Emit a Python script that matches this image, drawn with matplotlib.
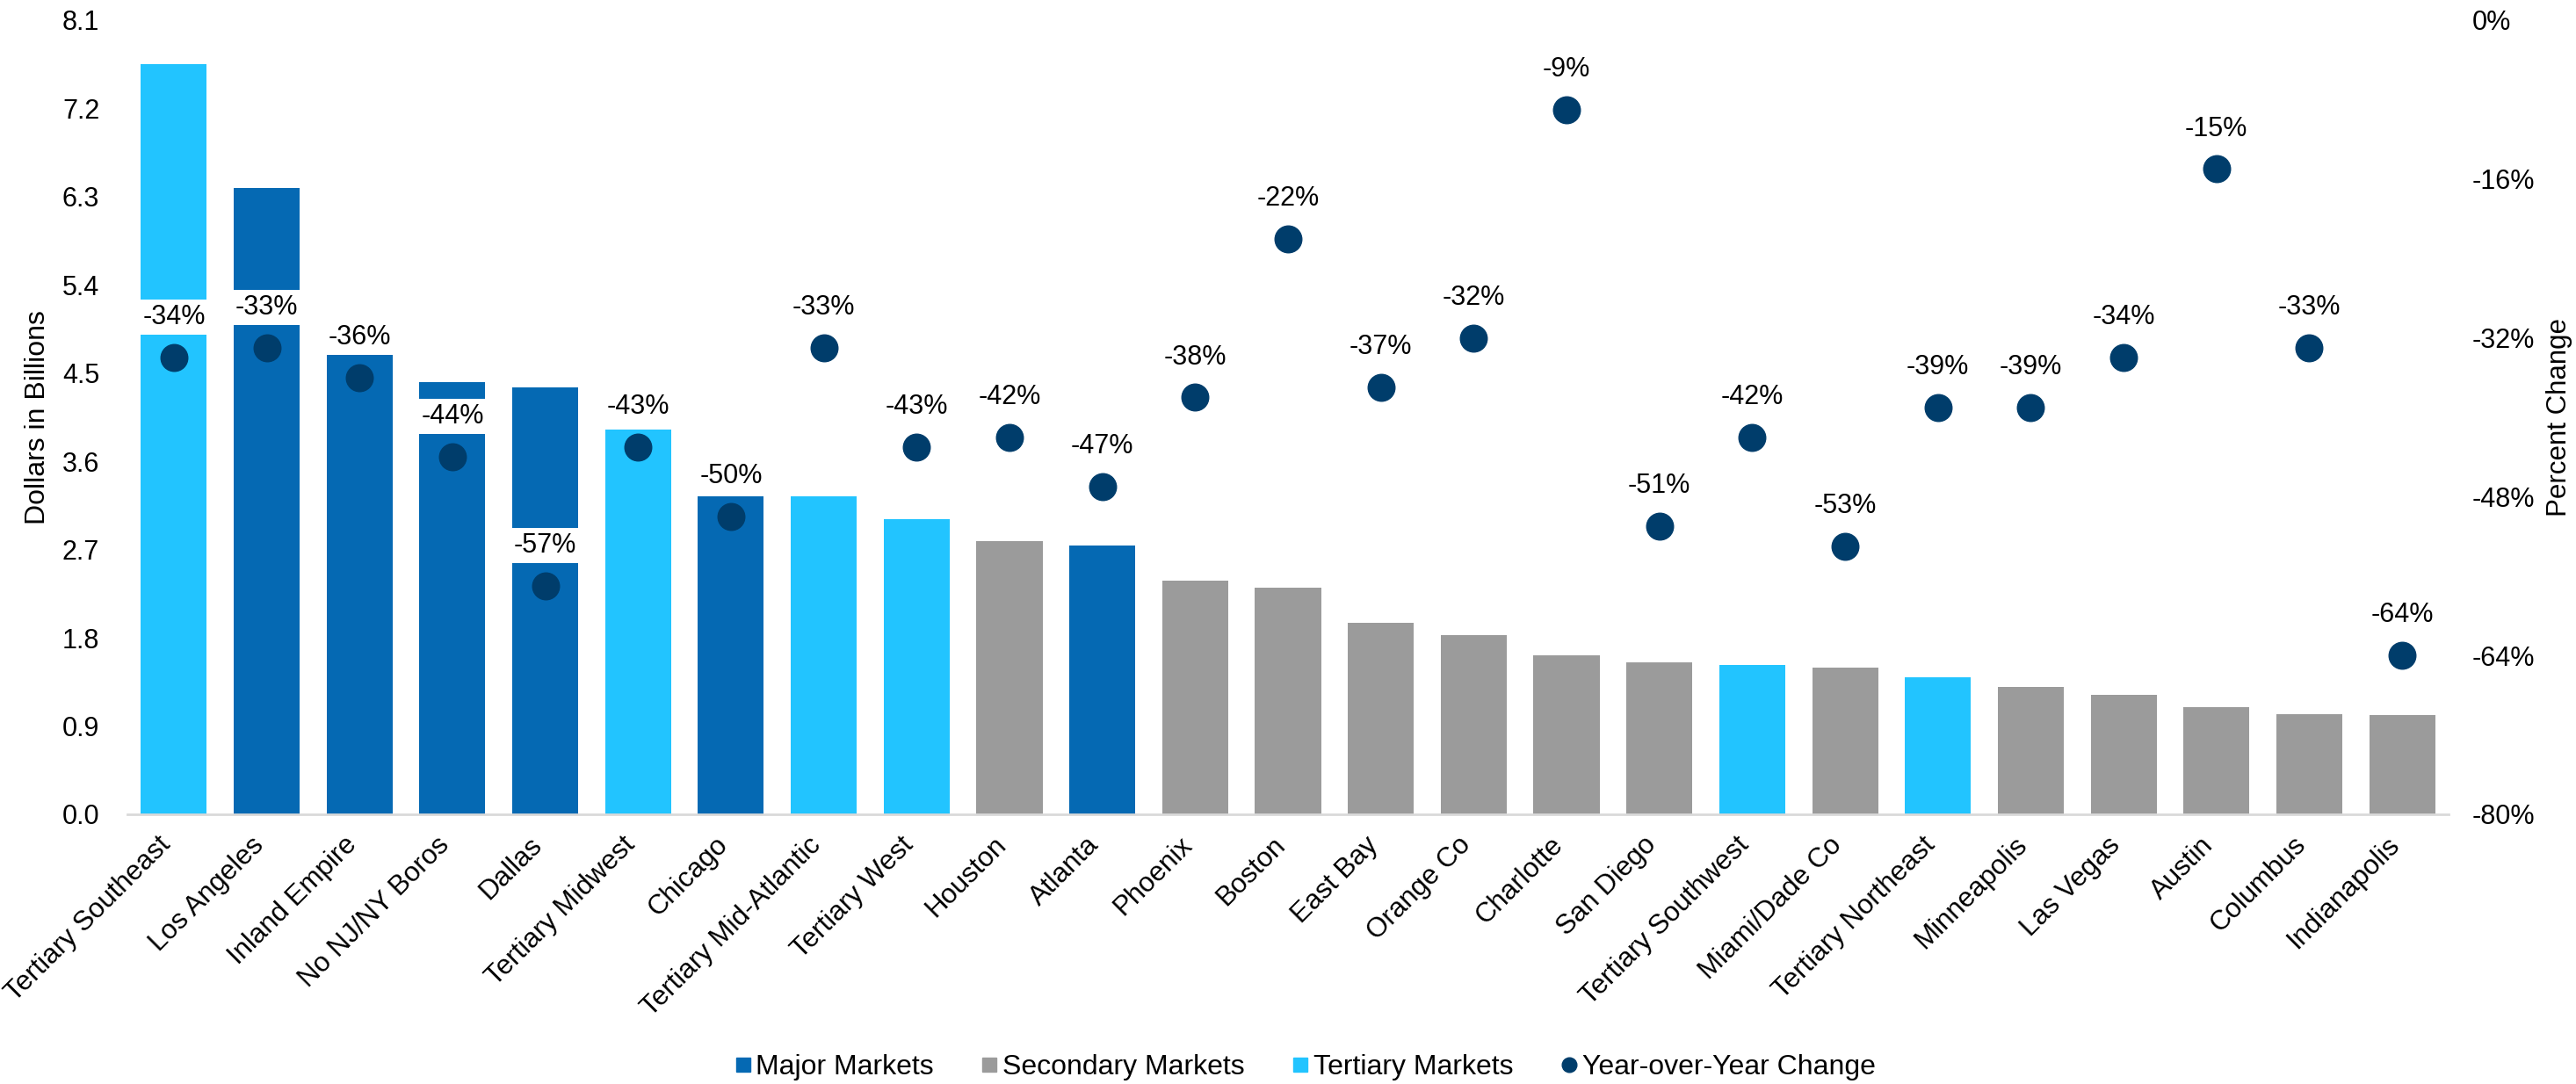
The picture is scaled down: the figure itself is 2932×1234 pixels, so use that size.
import numpy as np
import matplotlib
matplotlib.use('Agg')
import matplotlib.pyplot as plt
from matplotlib.lines import Line2D
from matplotlib.transforms import ScaledTranslation

# フォント
matplotlib.rcParams['font.family'] = ['Liberation Sans', 'DejaVu Sans']
matplotlib.rcParams['font.size'] = 22

# --- データ ---
markets = ['Tertiary Southeast', 'Los Angeles', 'Inland Empire', 'No NJ/NY Boros', 'Dallas',
           'Tertiary Midwest', 'Chicago', 'Tertiary Mid-Atlantic', 'Tertiary West', 'Houston',
           'Atlanta', 'Phoenix', 'Boston', 'East Bay', 'Orange Co', 'Charlotte', 'San Diego',
           'Tertiary Southwest', 'Miami/Dade Co', 'Tertiary Northeast', 'Minneapolis',
           'Las Vegas', 'Austin', 'Columbus', 'Indianapolis']
market_type = ['T', 'M', 'M', 'M', 'M', 'T', 'M', 'T', 'T', 'S', 'M', 'S', 'S', 'S', 'S',
               'S', 'S', 'T', 'S', 'T', 'S', 'S', 'S', 'S', 'S']
volume_bn = [7.65, 6.39, 4.71, 4.41, 4.35, 3.92, 3.24, 3.24, 3.01, 2.79, 2.74, 2.38, 2.31,
             1.95, 1.83, 1.62, 1.55, 1.52, 1.50, 1.40, 1.30, 1.22, 1.09, 1.02, 1.01]
yoy_pct = [-34, -33, -36, -44, -57, -43, -50, -33, -43, -42, -47, -38, -22, -37, -32, -9,
           -51, -42, -53, -39, -39, -34, -15, -33, -64]

left_ticks = [0.0, 0.9, 1.8, 2.7, 3.6, 4.5, 5.4, 6.3, 7.2, 8.1]
right_ticks = [-80, -64, -48, -32, -16, 0]

colors = {'M': '#0569B3', 'S': '#9B9B9B', 'T': '#22C4FF'}
dot_color = '#003D6B'

# --- プロット ---
fig = plt.figure(figsize=(29.32, 12.34), dpi=100)
ax = fig.add_axes([0.0495, 0.2488, 0.901, 0.7326])
x = np.arange(len(markets))
ax.bar(x, volume_bn, width=0.71, color=[colors[t] for t in market_type], zorder=2)
ax.set_xlim(-0.5, len(markets) - 0.5)
ax.set_ylim(0, 8.1)
ax.set_yticks(left_ticks)
ax.set_yticklabels([f'{v:.1f}' for v in left_ticks])
ax.set_xticks(x)
ax.set_xticklabels(markets, rotation=45, ha='right', va='center', rotation_mode='anchor')
ax.tick_params(axis='y', length=0, pad=23, labelsize=22)
ax.tick_params(axis='x', length=0, pad=22, labelsize=22.5)
shift = ScaledTranslation(-8 / 100, 0, fig.dpi_scale_trans)
for lab in ax.get_xticklabels():
    lab.set_transform(lab.get_transform() + shift)
for s in ['top', 'right', 'left']:
    ax.spines[s].set_visible(False)
ax.spines['bottom'].set_color('#D9D9D9')
ax.spines['bottom'].set_linewidth(2)
ax.set_ylabel('Dollars in Billions', fontsize=23)
ax.yaxis.set_label_coords(-0.033, 0.5)

ax2 = ax.twinx()
ax2.plot(x, yoy_pct, 'o', color=dot_color, markersize=22, zorder=3)
ax2.set_ylim(-80, 0)
ax2.set_yticks(right_ticks)
ax2.set_yticklabels([f'{v}%' for v in right_ticks])
ax2.tick_params(axis='y', length=0, pad=19, labelsize=22)
for s in ['top', 'right', 'left', 'bottom']:
    ax2.spines[s].set_visible(False)
ax2.set_ylabel('Percent Change', fontsize=22.5)
ax2.yaxis.set_label_coords(1.042, 0.5)

for xi, p in zip(x, yoy_pct):
    ax2.annotate(f'{p}%', (xi, p), xytext=(0, 33), textcoords='offset points',
                 ha='center', va='center', fontsize=22, zorder=4,
                 bbox=dict(boxstyle='square,pad=0.16', fc='white', ec='none'))

handles = [Line2D([], [], marker='s', linestyle='none', color=colors['M'], markersize=11),
           Line2D([], [], marker='s', linestyle='none', color=colors['S'], markersize=11),
           Line2D([], [], marker='s', linestyle='none', color=colors['T'], markersize=11),
           Line2D([], [], marker='o', linestyle='none', color=dot_color, markersize=12)]
fig.legend(handles, ['Major Markets', 'Secondary Markets', 'Tertiary Markets', 'Year-over-Year Change'],
           loc='center', bbox_to_anchor=(0.506, 0.0154), ncol=4, frameon=False, fontsize=23,
           handletextpad=0.05, columnspacing=1.6, handlelength=0.8)

fig.savefig('out.png', dpi=100)
